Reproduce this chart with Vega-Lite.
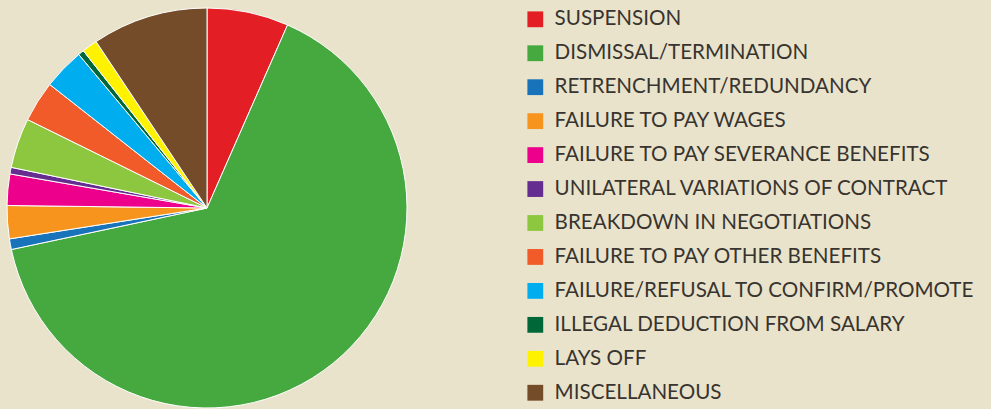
{
  "$schema": "https://vega.github.io/schema/vega-lite/v6.json",
  "width": 414,
  "height": 416,
  "padding": {"left": 0, "top": 0, "right": 20, "bottom": 0},
  "background": "#EAE3CC",
  "view": {"stroke": null},
  "data": {
    "values": [
      {"category": "SUSPENSION", "value": 6.6, "order": 1},
      {"category": "DISMISSAL/TERMINATION", "value": 65.1, "order": 2},
      {"category": "RETRENCHMENT/REDUNDANCY", "value": 0.86, "order": 3},
      {"category": "FAILURE TO PAY WAGES", "value": 2.67, "order": 4},
      {"category": "FAILURE TO PAY SEVERANCE BENEFITS", "value": 2.53, "order": 5},
      {"category": "UNILATERAL VARIATIONS OF CONTRACT", "value": 0.53, "order": 6},
      {"category": "BREAKDOWN IN NEGOTIATIONS", "value": 4.03, "order": 7},
      {"category": "FAILURE TO PAY OTHER BENEFITS", "value": 3.31, "order": 8},
      {"category": "FAILURE/REFUSAL TO CONFIRM/PROMOTE", "value": 3.33, "order": 9},
      {"category": "ILLEGAL DEDUCTION FROM SALARY", "value": 0.47, "order": 10},
      {"category": "LAYS OFF", "value": 1.25, "order": 11},
      {"category": "MISCELLANEOUS", "value": 9.36, "order": 12}
    ]
  },
  "mark": {"type": "arc", "outerRadius": 200, "stroke": "#ffffff", "strokeWidth": 1},
  "encoding": {
    "theta": {"field": "value", "type": "quantitative", "stack": true},
    "order": {"field": "order", "type": "quantitative"},
    "color": {
      "field": "category",
      "type": "nominal",
      "scale": {
        "domain": ["SUSPENSION", "DISMISSAL/TERMINATION", "RETRENCHMENT/REDUNDANCY", "FAILURE TO PAY WAGES", "FAILURE TO PAY SEVERANCE BENEFITS", "UNILATERAL VARIATIONS OF CONTRACT", "BREAKDOWN IN NEGOTIATIONS", "FAILURE TO PAY OTHER BENEFITS", "FAILURE/REFUSAL TO CONFIRM/PROMOTE", "ILLEGAL DEDUCTION FROM SALARY", "LAYS OFF", "MISCELLANEOUS"],
        "range": ["#E31E24", "#45A93F", "#1873BA", "#F7941D", "#EC008C", "#662D91", "#8DC63F", "#F15A29", "#00AEEF", "#006838", "#FFF200", "#754C29"]
      },
      "legend": {
        "title": null,
        "orient": "none",
        "legendX": 525,
        "legendY": 9,
        "symbolType": "square",
        "symbolSize": 250,
        "symbolStrokeWidth": 0,
        "symbolOpacity": 1,
        "labelFont": "Lato",
        "labelFontSize": 20.6,
        "labelColor": "#38342f",
        "labelOffset": 9,
        "labelLimit": 500,
        "rowPadding": 12.95
      }
    }
  }
}
